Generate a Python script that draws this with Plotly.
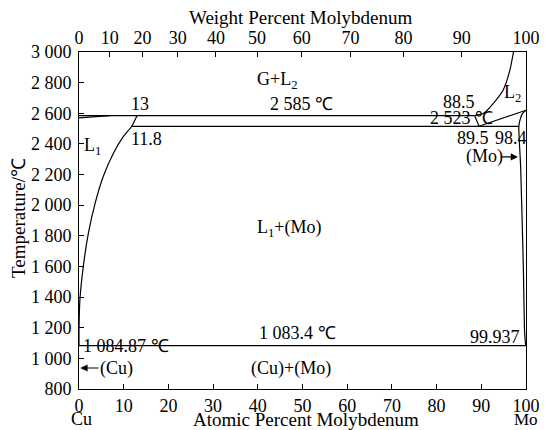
import plotly.graph_objects as go

# ---------------- data ----------------
# L1 liquidus on the Cu side (atomic % Mo, temperature °C)
l1_x = [13, 11.8, 9.9, 7.7, 5.4, 3.6, 2.1, 0.96, 0.2, 0, 0]
l1_t = [2585, 2515, 2447, 2339, 2186, 2012, 1817, 1599, 1381, 1185, 1084.87]
# short L1/G boundary near pure Cu
g1_x = [0, 7]
g1_t = [2570, 2585]
# monotectic line 2585 °C
mono_x = [0, 88.5]
mono_t = [2585, 2585]
# line 2515 °C
mid_x = [11.8, 98.4]
mid_t = [2515, 2515]
# eutectic line 1083.4 °C
eut_x = [0, 99.937]
eut_t = [1083.4, 1083.4]
# L2 / G boundary (Mo side, top)
l2_x = [88.5, 90.5, 92.7, 94.9, 96.4, 97.2]
l2_t = [2585, 2600, 2665, 2752, 2882, 3000]
# short segment from 88.5 down to 89.5
v_x = [88.5, 89.5]
v_t = [2585, 2515]
# L2 liquidus to Mo melting point
liq2_x = [89.5, 100]
liq2_t = [2515, 2620]
# (Mo) solidus and solvus
mo_x = [100, 99.2, 98.7, 98.4, 98.8, 99.4, 99.7, 99.937]
mo_t = [2620, 2598, 2560, 2515, 2251, 1599, 1164, 1083.4]

at_ticks = [0, 10, 20, 30, 40, 50, 60, 70, 80, 90, 100]
t_ticks = [800, 1000, 1200, 1400, 1600, 1800, 2000, 2200, 2400, 2600, 2800, 3000]
t_ticktext = ["800", "1 000", "1 200", "1 400", "1 600", "1 800", "2 000",
              "2 200", "2 400", "2 600", "2 800", "3 000"]
wt_ticks = [0, 10, 20, 30, 40, 50, 60, 70, 80, 90, 100]
M_CU, M_MO = 63.546, 95.95


def wt_to_at(w):
    a = w / M_MO
    b = (100 - w) / M_CU
    return 100 * a / (a + b)


wt_pos = [wt_to_at(w) for w in wt_ticks]

FONT = "Liberation Serif, Times New Roman, serif"
FS = 18
FT = 19
LW = 1.2

fig = go.Figure()
for xs, ts in [(l1_x, l1_t), (g1_x, g1_t), (mono_x, mono_t), (mid_x, mid_t),
               (eut_x, eut_t), (l2_x, l2_t), (v_x, v_t), (liq2_x, liq2_t),
               (mo_x, mo_t)]:
    fig.add_trace(go.Scatter(x=xs, y=ts, mode="lines",
                             line=dict(color="black", width=LW, shape="spline", smoothing=0.6),
                             hoverinfo="skip", showlegend=False, cliponaxis=True))
# dummy trace to activate the top axis
fig.add_trace(go.Scatter(x=[0], y=[3000], xaxis="x2", mode="markers",
                         marker=dict(opacity=0), hoverinfo="skip", showlegend=False))

labels = [
    ("G+L<sub>2</sub>", 44.3, 2811),
    ("2 585 ℃", 49.7, 2661),
    ("13", 13.6, 2661),
    ("11.8", 15.2, 2432),
    ("L<sub>1</sub>", 3.1, 2386),
    ("88.5", 85.0, 2674),
    ("2 523 ℃", 85.5, 2569),
    ("L<sub>2</sub>", 96.9, 2726),
    ("89.5", 88.1, 2439),
    ("98.4", 96.6, 2439),
    ("(Mo)", 90.8, 2315),
    ("L<sub>1</sub>+(Mo)", 47.0, 1845),
    ("1 083.4 ℃", 48.8, 1166),
    ("1 084.87 ℃", 10.5, 1081),
    ("(Cu)", 8.5, 937),
    ("(Cu)+(Mo)", 47.4, 937),
    ("99.937", 93.1, 1140),
]
ann = []
for txt, x, y in labels:
    ann.append(dict(text=txt, x=x, y=y, xref="x", yref="y", showarrow=False,
                    font=dict(family=FONT, size=FS, color="black"),
                    xanchor="center", yanchor="middle"))
# arrows
ann.append(dict(x=98.2, y=2315, ax=94.2, ay=2315, xref="x", yref="y",
                axref="x", ayref="y", text="", showarrow=True, arrowhead=2,
                arrowsize=1.2, arrowwidth=1.2, arrowcolor="black"))
ann.append(dict(x=0.3, y=937, ax=4.7, ay=937, xref="x", yref="y",
                axref="x", ayref="y", text="", showarrow=True, arrowhead=2,
                arrowsize=1.2, arrowwidth=1.2, arrowcolor="black"))
# axis titles and end labels (paper coords, relative to plot area)
W, H = 447.0, 337.0
def px(xp):
    return (xp - 79) / W
def py(yp):
    return (389 - yp) / H
for txt, xp, yp, ang, fs, xa in [("Weight Percent Molybdenum", 300, 17, 0, FT, "center"),
                                 ("Atomic Percent Molybdenum", 306, 419, 0, FT, "center"),
                                 ("Cu", 81, 419, 0, FS, "center"),
                                 ("Mo", 540, 419, 0, 17, "right"),
                                 ("Temperature/℃", 18, 218, -90, FT, "center")]:
    ann.append(dict(text=txt, x=px(xp), y=py(yp), xref="paper", yref="paper",
                    showarrow=False, textangle=ang,
                    font=dict(family=FONT, size=fs, color="black"),
                    xanchor=xa, yanchor="middle"))

axis_common = dict(showgrid=False, zeroline=False, showline=True, linecolor="black",
                   linewidth=1, ticks="inside", ticklen=5, tickcolor="black",
                   automargin=False,
                   tickfont=dict(family=FONT, size=FS, color="black"))

# page body has an 8px margin: the figure is offset by (8, 8) in the window
fig.update_layout(
    width=539, height=422,
    margin=dict(l=71, r=21, t=44, b=41, autoexpand=False),
    paper_bgcolor="white", plot_bgcolor="white",
    annotations=ann,
    xaxis=dict(range=[0, 100], tickvals=at_ticks, ticktext=[str(v) for v in at_ticks],
               **axis_common),
    xaxis2=dict(range=[0, 100], overlaying="x", side="top", tickvals=wt_pos,
                ticktext=[str(v) for v in wt_ticks], **axis_common),
    yaxis=dict(range=[800, 3000], tickvals=t_ticks, ticktext=t_ticktext,
               mirror=True, ticklabelstandoff=3, **axis_common),
)
fig.write_html("out.html")
